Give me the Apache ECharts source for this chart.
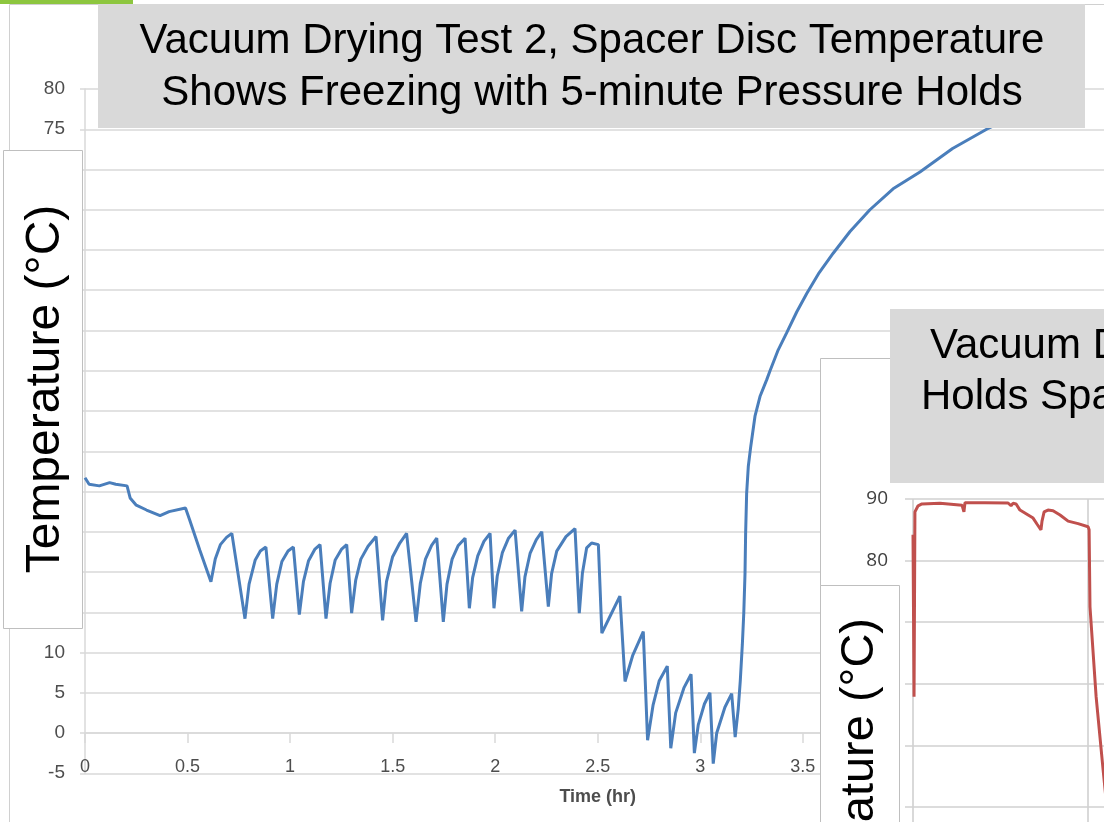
<!DOCTYPE html>
<html>
<head>
<meta charset="utf-8">
<script src="https://cdn.jsdelivr.net/npm/echarts@6/dist/echarts.min.js"></script>
<style>
html,body{margin:0;padding:0;background:#ffffff;}
#c{width:1104px;height:822px;}
</style>
</head>
<body>
<div id="c"></div>
<script>
// ---- texts ----
const titleMain = ['Vacuum Drying Test 2, Spacer Disc Temperature', 'Shows Freezing with 5-minute Pressure Holds'];
const titleSecond = ['Vacuum Drying', 'Holds Spacer'];
const yAxisName = 'Temperature (°C)';
const xAxisName = 'Time (hr)';

// ---- main chart: Test 2 spacer disc temperature ----
const test2Time = [
  0, 0.02, 0.07, 0.12, 0.15, 0.205, 0.22, 0.25, 0.30, 0.366, 0.41, 0.49, 0.51, 0.56, 0.614, 0.635, 0.66, 0.69, 0.716,
  0.78, 0.80, 0.83, 0.855, 0.882,
  0.915, 0.935, 0.96, 0.99, 1.016,
  1.045, 1.065, 1.09, 1.12, 1.146,
  1.175, 1.195, 1.22, 1.25, 1.276,
  1.30, 1.32, 1.345, 1.38, 1.419,
  1.451, 1.47, 1.50, 1.535, 1.568,
  1.614, 1.635, 1.66, 1.69, 1.715,
  1.747, 1.765, 1.79, 1.82, 1.853,
  1.874, 1.89, 1.915, 1.945, 1.975,
  1.994, 2.01, 2.035, 2.065, 2.097,
  2.129, 2.145, 2.17, 2.20, 2.227,
  2.259, 2.275, 2.30, 2.345, 2.389,
  2.41, 2.425, 2.446, 2.47, 2.503,
  2.52, 2.56, 2.608,
  2.633, 2.67, 2.722,
  2.743, 2.77, 2.80, 2.839,
  2.856, 2.88, 2.92, 2.955,
  2.971, 2.99, 3.02, 3.047,
  3.063, 3.08, 3.12, 3.153,
  3.17, 3.185, 3.195, 3.205, 3.212, 3.218, 3.221, 3.226, 3.234, 3.246, 3.267, 3.291, 3.324, 3.34,
  3.38, 3.421, 3.47, 3.519, 3.58, 3.648, 3.73, 3.827, 3.94, 4.071, 4.23, 4.396, 4.55, 4.7
];
const test2Temp = [
  31.7, 30.9, 30.7, 31.1, 30.9, 30.7, 29.2, 28.3, 27.7, 27.0, 27.5, 27.95, 26.5, 22.7, 18.8, 21.6, 23.4, 24.3, 24.8,
  14.2, 18.5, 21.5, 22.6, 23.1,
  14.2, 18.5, 21.3, 22.6, 23.1,
  14.7, 18.8, 21.4, 22.8, 23.4,
  14.2, 18.6, 21.5, 22.8, 23.4,
  14.9, 19.0, 21.6, 23.2, 24.4,
  14.0, 18.8, 21.9, 23.6, 24.8,
  13.8, 18.6, 21.6, 23.3, 24.2,
  13.8, 18.5, 21.6, 23.3, 24.2,
  15.5, 19.3, 22.0, 23.8, 24.8,
  15.5, 19.5, 22.4, 24.2, 25.2,
  15.1, 19.4, 22.3, 24.0, 25.0,
  15.7, 19.8, 22.6, 24.4, 25.4,
  14.9, 19.8, 23.0, 23.6, 23.4,
  12.4, 14.5, 17.0,
  6.4, 9.6, 12.6,
  -0.9, 3.5, 6.5, 8.3,
  -1.9, 2.5, 5.6, 7.3,
  -2.5, 1.0, 3.6, 5.0,
  -3.8, 0.0, 3.2, 4.9,
  -0.5, 3.0, 6.5, 11.0, 14.9, 19.8, 24.8, 29.8, 33.1, 35.6, 39.4, 41.8, 43.9, 45.0,
  47.6, 49.7, 52.3, 54.6, 57.2, 59.6, 62.3, 65.0, 67.6, 69.7, 72.6, 75.0, 76.9, 78.4
];

// ---- inset chart: other test, spacer disc temperature ----
const insetTime = [0, 0.006, 0.011, 0.029, 0.051, 0.154, 0.28, 0.291, 0.297, 0.411, 0.543, 0.56, 0.571, 0.589, 0.611, 0.646,
  0.686, 0.709, 0.731, 0.737, 0.749, 0.771, 0.8, 0.84, 0.886, 0.943, 1.0, 1.006, 1.011, 1.046, 1.086, 1.126];
const insetTemp = [84.2, 57.9, 87.9, 88.9, 89.2, 89.3, 89.0, 87.9, 89.4, 89.4, 89.35, 88.9, 89.3, 89.2, 88.2, 87.6,
  86.9, 85.9, 85.0, 86.4, 87.9, 88.2, 88.1, 87.4, 86.4, 86.0, 85.5, 85.0, 72.5, 57.9, 46.0, 34.6];
const insetVerticalGrid = [0, 1];

const FONT_NARROW = "'Liberation Sans Narrow','Liberation Sans',Arial,sans-serif";
const FONT_ARIAL = "'Liberation Sans',Arial,sans-serif";

const chart = echarts.init(document.getElementById('c'), null, {renderer: 'canvas'});

const option = {
  animation: false,
  backgroundColor: '#ffffff',
  grid: [
    {left: 85, top: 89, width: 1025.5, height: 684.25, outerBoundsMode: 'none', containLabel: false},
    {left: 905, top: 499, width: 300, height: 431, outerBoundsMode: 'none', containLabel: false}
  ],
  xAxis: [
    {
      gridIndex: 0, type: 'value', min: 0, max: 5, interval: 0.5,
      axisLine: {show: true, onZero: true, lineStyle: {color: '#d9d9d9', width: 1.5}},
      axisTick: {show: true, length: 10, lineStyle: {color: '#d9d9d9', width: 1.5}},
      axisLabel: {show: false},
      splitLine: {show: false}
    },
    {
      gridIndex: 0, type: 'value', min: 0, max: 5, interval: 0.5, position: 'bottom',
      axisLine: {show: false, onZero: false},
      axisTick: {show: false},
      splitLine: {show: false},
      axisLabel: {margin: -15, fontSize: 18, color: '#4d4d4d', fontFamily: FONT_NARROW},
      name: xAxisName, nameLocation: 'middle', nameGap: 15,
      nameTextStyle: {fontSize: 18, fontWeight: 'bold', color: '#4d4d4d', fontFamily: FONT_NARROW}
    },
    {
      gridIndex: 1, type: 'value', min: -0.0457, max: 1.668, z: 10,
      axisLine: {show: false}, axisTick: {show: false}, axisLabel: {show: false}, splitLine: {show: false}
    }
  ],
  yAxis: [
    {
      gridIndex: 0, type: 'value', min: -5, max: 80, interval: 5,
      axisLine: {show: true, lineStyle: {color: '#d9d9d9', width: 1.5}},
      axisTick: {show: true, length: 5, lineStyle: {color: '#d9d9d9', width: 1.5}},
      splitLine: {show: true, lineStyle: {color: '#d9d9d9', width: 1.5}},
      axisLabel: {margin: 20, fontSize: 19, color: '#4d4d4d', fontFamily: FONT_NARROW}
    },
    {
      gridIndex: 1, type: 'value', min: 20, max: 90, interval: 10, z: 10,
      axisLine: {show: false}, axisTick: {show: false},
      splitLine: {show: true, lineStyle: {color: '#d0d0d0', width: 1.5}},
      axisLabel: {margin: 17, fontSize: 19, color: '#404040', fontFamily: "'Open Sans',sans-serif"}
    }
  ],
  series: [
    {
      type: 'line', xAxisIndex: 0, yAxisIndex: 0, z: 2,
      data: test2Time.map((t, i) => [t, test2Temp[i]]),
      symbol: 'none', showSymbol: false,
      lineStyle: {color: '#4a7ebb', width: 3}
    },
    {
      type: 'line', xAxisIndex: 2, yAxisIndex: 1, z: 10,
      data: [],
      symbol: 'none',
      markLine: {
        silent: true, symbol: ['none', 'none'], label: {show: false},
        lineStyle: {color: '#cccccc', width: 1.5, type: 'solid'},
        data: insetVerticalGrid.map(v => ({xAxis: v}))
      }
    },
    {
      type: 'line', xAxisIndex: 2, yAxisIndex: 1, z: 11,
      data: insetTime.map((t, i) => [t, insetTemp[i]]),
      symbol: 'none', showSymbol: false,
      lineStyle: {color: '#c0504d', width: 3}
    }
  ],
  graphic: {
    elements: [
      {type: 'rect', z: 4, silent: true, shape: {x: 9.5, y: 4.5, width: 1200, height: 900},
        style: {fill: 'none', stroke: '#d0d0d0', lineWidth: 1}},
      {type: 'rect', z: 30, silent: true, shape: {x: 0, y: 0, width: 133, height: 4}, style: {fill: '#8dc63f'}},
      // main title
      {type: 'rect', z: 5, silent: true, shape: {x: 98, y: 4, width: 987, height: 124}, style: {fill: '#d9d9d9'}},
      {type: 'text', z: 6, silent: true, x: 592, y: 41,
        style: {text: titleMain[0], font: '42px ' + FONT_ARIAL, fill: '#000000', align: 'center', verticalAlign: 'middle'}},
      {type: 'text', z: 6, silent: true, x: 592, y: 93,
        style: {text: titleMain[1], font: '42px ' + FONT_ARIAL, fill: '#000000', align: 'center', verticalAlign: 'middle'}},
      // main y label box
      {type: 'rect', z: 5, silent: true, shape: {x: 3.5, y: 150.5, width: 79, height: 478},
        style: {fill: '#ffffff', stroke: '#bfbfbf', lineWidth: 1}},
      {type: 'text', z: 6, silent: true, x: 46, y: 389, rotation: Math.PI / 2,
        style: {text: yAxisName, font: '48px ' + FONT_ARIAL, fill: '#000000', align: 'center', verticalAlign: 'middle'}},
      // inset panel
      {type: 'rect', z: 5, silent: true, shape: {x: 820.5, y: 358.5, width: 400, height: 500},
        style: {fill: '#ffffff', stroke: '#bfbfbf', lineWidth: 1}},
      {type: 'rect', z: 12, silent: true, shape: {x: 890, y: 309, width: 300, height: 174}, style: {fill: '#d9d9d9'}},
      {type: 'text', z: 13, silent: true, x: 930, y: 346,
        style: {text: titleSecond[0], font: '42px ' + FONT_ARIAL, fill: '#000000', align: 'left', verticalAlign: 'middle'}},
      {type: 'text', z: 13, silent: true, x: 921, y: 397,
        style: {text: titleSecond[1], font: '42px ' + FONT_ARIAL, fill: '#000000', align: 'left', verticalAlign: 'middle'}},
      {type: 'rect', z: 20, silent: true, shape: {x: 820.5, y: 585.5, width: 79, height: 400},
        style: {fill: '#ffffff', stroke: '#bfbfbf', lineWidth: 1}},
      {type: 'text', z: 21, silent: true, x: 860, y: 618, rotation: Math.PI / 2,
        style: {text: yAxisName, font: '47px ' + FONT_ARIAL, fill: '#000000', align: 'right', verticalAlign: 'middle'}}
    ]
  }
};
chart.setOption(option);
</script>
</body>
</html>
